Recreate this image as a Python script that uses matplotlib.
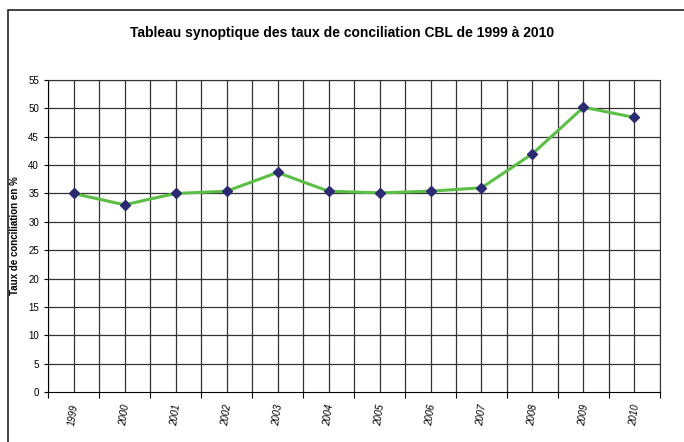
import numpy as np
import matplotlib.pyplot as plt
from matplotlib.patches import Rectangle

years = ['1999', '2000', '2001', '2002', '2003', '2004',
         '2005', '2006', '2007', '2008', '2009', '2010']
taux = [35.0, 33.0, 35.0, 35.4, 38.7, 35.4, 35.1, 35.4, 36.0, 42.0, 50.2, 48.4]

plt.rcParams['font.family'] = ['Liberation Sans', 'DejaVu Sans']

fig = plt.figure(figsize=(6.84, 4.42), dpi=100)
# cadre du graphique (bords droit et bas hors image)
fig.patches.append(Rectangle((0.0117, -0.1), 1.2, 1.0774, transform=fig.transFigure,
                             fill=False, edgecolor='#222222', linewidth=1.2))

ax = fig.add_axes([0.0702, 0.1131, 0.8947, 0.7059])
x = np.arange(len(years))
ax.set_xlim(-0.5, len(years) - 0.5)
ax.set_ylim(0, 55)

# grille : lignes aux centres et aux bords des categories
for v in np.arange(-0.5, len(years), 0.5):
    ax.axvline(v, color='#333333', linewidth=0.9, zorder=1)
for h in range(5, 56, 5):
    ax.axhline(h, color='#333333', linewidth=0.9, zorder=1)

ax.plot(x, taux, color='#5cbf45', linewidth=2.2, marker='D', markersize=5.5,
        markerfacecolor='#2b2a72', markeredgecolor='#2b2a72', zorder=3)

ax.set_yticks(range(0, 56, 5))
ax.tick_params(axis='y', labelsize=7, direction='out', length=3, colors='black')
ax.set_xticks(np.arange(-0.5, len(years), 1), minor=False)
ax.set_xticklabels([])
ax.tick_params(axis='x', direction='out', length=4)
ax.set_xticks(x, minor=True)
ax.set_xticklabels(years, minor=True, rotation=82, fontsize=7, style='italic')
ax.tick_params(axis='x', which='minor', length=0, pad=8)

for s in ['top', 'right']:
    ax.spines[s].set_color('#333333')
ax.spines['left'].set_color('black')
ax.spines['bottom'].set_color('black')

ax.set_ylabel('Taux de conciliation en %', fontsize=7, fontweight='bold', labelpad=6)
fig.text(0.5, 0.925, 'Tableau synoptique des taux de conciliation CBL de 1999 à 2010',
         ha='center', va='center', fontsize=10, fontweight='bold')

fig.savefig('out.png', dpi=100)
